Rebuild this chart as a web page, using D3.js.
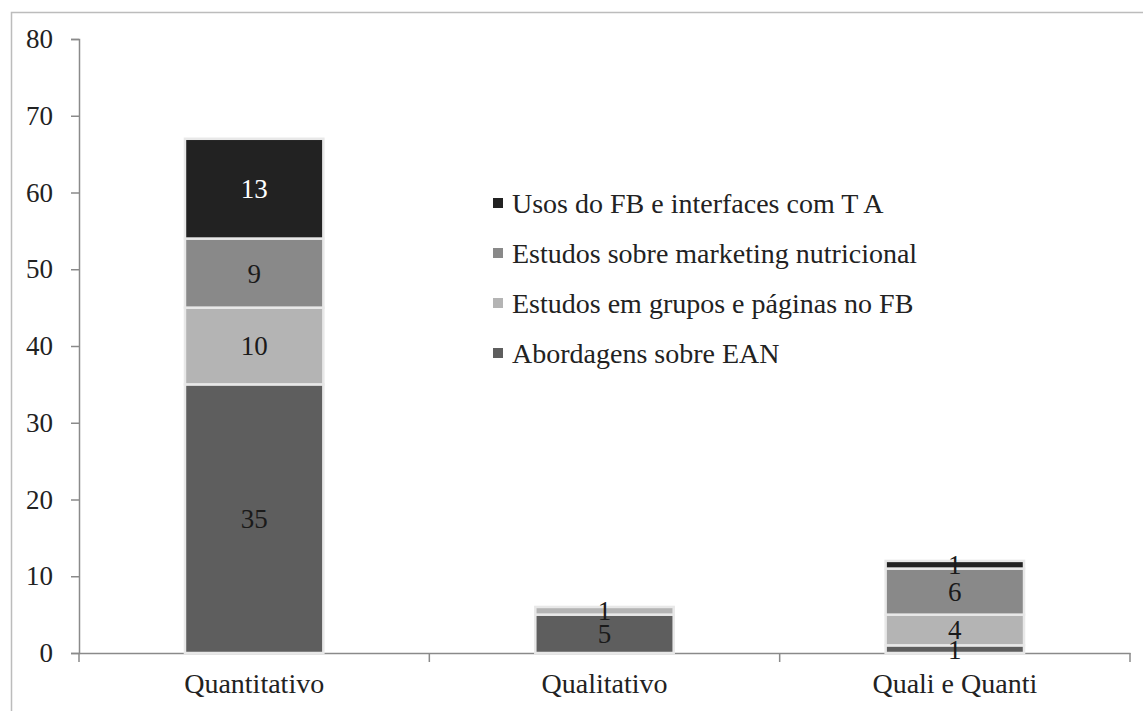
<!DOCTYPE html>
<html>
<head>
<meta charset="utf-8">
<script src="https://cdn.jsdelivr.net/npm/d3@7"></script>
<style>
  body { margin: 0; background: #fff; }
</style>
</head>
<body>
<div id="chart"></div>
<script>
// Data
const categories = ["Quantitativo", "Qualitativo", "Quali e Quanti"];
const seriesNames = [
    "Abordagens sobre EAN",
    "Estudos em grupos e páginas no FB",
    "Estudos sobre marketing nutricional",
    "Usos do FB e interfaces com T A"
];
const abordagens = [35, 5, 1];
const grupos = [10, 1, 4];
const marketing = [9, 0, 6];
const usos = [13, 0, 1];
const yTicks = [0, 10, 20, 30, 40, 50, 60, 70, 80];

const colors = ["#5e5e5e", "#b4b4b4", "#898989", "#222222"];
const serif = "'Liberation Serif', 'Times New Roman', Times, serif";

const W = 1143, H = 711;
const margin = { top: 39, right: 13, bottom: 58, left: 79 },
    width = W - margin.left - margin.right,
    height = H - margin.top - margin.bottom;

const svgRoot = d3.select("#chart")
    .append("svg")
    .attr("width", W)
    .attr("height", H);

// outer frame (runs off the picture on the right and bottom)
svgRoot.append("rect")
    .attr("x", 11.5).attr("y", 12.5)
    .attr("width", 1200).attr("height", 800)
    .attr("fill", "none")
    .attr("stroke", "#bcbcbc")
    .attr("stroke-width", 1.5);

const svg = svgRoot.append("g")
    .attr("transform", "translate(" + margin.left + "," + margin.top + ")");

// build table for stacking
const table = categories.map((c, i) => ({
    cat: c,
    [seriesNames[0]]: abordagens[i],
    [seriesNames[1]]: grupos[i],
    [seriesNames[2]]: marketing[i],
    [seriesNames[3]]: usos[i]
}));
const stacked = d3.stack().keys(seriesNames)(table);

// Scales
const xAxisScale = d3.scaleBand().domain(categories).range([0, width]).padding(0);
const x = d3.scaleBand().domain(categories).range([0, width])
    .paddingInner(0.605).paddingOuter(0.3025);
const y = d3.scaleLinear().domain([0, 80]).range([height, 0]);

// Y axis
const yAxis = svg.append("g")
    .call(d3.axisLeft(y).tickValues(yTicks).tickSize(8).tickPadding(18));
yAxis.select(".domain").attr("stroke", "#8a8a8a").attr("stroke-width", 1.5);
yAxis.selectAll(".tick line").attr("stroke", "#8a8a8a").attr("stroke-width", 1.5);
yAxis.selectAll("text")
    .style("font-family", serif)
    .style("font-size", "27px")
    .attr("fill", "#222");

// X axis (labels at centres, ticks at category boundaries)
const xAxis = svg.append("g")
    .attr("transform", "translate(0," + height + ")")
    .call(d3.axisBottom(xAxisScale).tickSize(0).tickPadding(20));
xAxis.select(".domain").attr("stroke", "#8a8a8a").attr("stroke-width", 1.5);
xAxis.selectAll("text")
    .style("font-family", serif)
    .style("font-size", "28px")
    .attr("fill", "#222");

const bounds = categories.map(c => xAxisScale(c)).concat([width]);
xAxis.selectAll(".bound")
    .data(bounds)
    .enter()
    .append("line")
    .attr("class", "bound")
    .attr("x1", d => d).attr("x2", d => d)
    .attr("y1", 0).attr("y2", 9)
    .attr("stroke", "#8a8a8a")
    .attr("stroke-width", 1.5);

// Bars
const layers = svg.append("g")
    .selectAll("g")
    .data(stacked)
    .enter()
    .append("g")
    .attr("fill", (d, i) => colors[i]);

layers.selectAll("rect")
    .data(d => d.filter(s => s[1] - s[0] > 0))
    .enter()
    .append("rect")
    .attr("x", d => x(d.data.cat))
    .attr("y", d => y(d[1]))
    .attr("width", x.bandwidth())
    .attr("height", d => y(d[0]) - y(d[1]))
    .attr("stroke", "#e8e8e8")
    .attr("stroke-width", 2.5);

// Segment labels
stacked.forEach((layer, i) => {
    svg.append("g")
        .selectAll("text")
        .data(layer.filter(s => s[1] - s[0] > 0))
        .enter()
        .append("text")
        .attr("x", d => x(d.data.cat) + x.bandwidth() / 2)
        .attr("y", d => y((d[0] + d[1]) / 2))
        .attr("dy", "0.35em")
        .attr("text-anchor", "middle")
        .style("font-family", serif)
        .style("font-size", "27px")
        .attr("fill", d => (i === 3 && y(d[0]) - y(d[1]) > 30) ? "#ffffff" : "#1a1a1a")
        .text(d => d[1] - d[0]);
});

// Legend (top entry = last series)
const legendOrder = seriesNames.map((n, i) => ({ name: n, color: colors[i] })).reverse();
const legend = svgRoot.append("g")
    .attr("transform", "translate(493,203)");
const rows = legend.selectAll("g")
    .data(legendOrder)
    .enter()
    .append("g")
    .attr("transform", (d, i) => "translate(0," + i * 50 + ")");
rows.append("rect")
    .attr("x", 0).attr("y", -5)
    .attr("width", 10).attr("height", 10)
    .attr("fill", d => d.color);
rows.append("text")
    .attr("x", 19)
    .attr("y", 0)
    .attr("dy", "0.35em")
    .style("font-family", serif)
    .style("font-size", "28px")
    .attr("fill", "#222")
    .text(d => d.name);
</script>
</body>
</html>
